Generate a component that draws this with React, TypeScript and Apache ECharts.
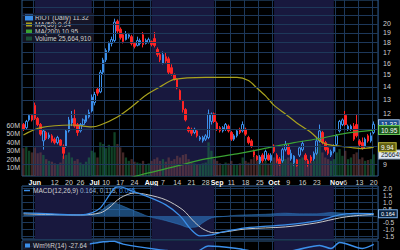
import { useEffect, useRef } from 'react';
import * as echarts from 'echarts';

// Trading days shown (2023), MM-DD
const dates = [
  '05-25','05-26','05-30','05-31',
  '06-01','06-02','06-05','06-06','06-07','06-08','06-09','06-12','06-13','06-14','06-15','06-16','06-20','06-21','06-22','06-23','06-26','06-27','06-28','06-29','06-30',
  '07-03','07-05','07-06','07-07','07-10','07-11','07-12','07-13','07-14','07-17','07-18','07-19','07-20','07-21','07-24','07-25','07-26','07-27','07-28','07-31',
  '08-01','08-02','08-03','08-04','08-07','08-08','08-09','08-10','08-11','08-14','08-15','08-16','08-17','08-18','08-21','08-22','08-23','08-24','08-25','08-28','08-29','08-30','08-31',
  '09-01','09-05','09-06','09-07','09-08','09-11','09-12','09-13','09-14','09-15','09-18','09-19','09-20','09-21','09-22','09-25','09-26','09-27','09-28','09-29',
  '10-02','10-03','10-04','10-05','10-06','10-09','10-10','10-11','10-12','10-13','10-16','10-17','10-18','10-19','10-20','10-23','10-24','10-25','10-26','10-27','10-30','10-31',
  '11-01','11-02','11-03','11-06','11-07','11-08','11-09','11-10','11-13','11-14','11-15','11-16','11-17','11-20',
];

// [open, close, low, high]
const candles: number[][] = [
  [11.3,11.0,10.9,11.4],[11.1,11.5,11.0,11.6],[11.6,11.9,11.5,12.0],[11.9,11.6,11.5,12.0],
  [12.6,11.7,11.6,12.8],[11.7,11.3,11.2,11.8],[11.3,10.7,10.6,11.4],[10.3,10.9,9.8,11.0],[10.8,10.45,10.35,10.9],
  [10.5,10.65,10.4,10.8],[10.6,10.3,10.2,10.7],[10.4,10.2,10.1,10.5],[10.2,10.5,10.1,10.6],[10.35,10.05,9.95,10.4],
  [10.0,9.6,9.3,10.1],[10.0,10.9,9.9,11.0],[10.9,11.6,10.8,11.8],[11.4,11.7,11.2,12.2],[11.7,11.2,11.1,12.3],
  [11.3,10.8,10.6,11.4],[10.9,11.3,10.8,11.4],[11.3,11.6,11.2,11.7],[11.5,11.9,11.4,12.0],[11.8,12.1,11.7,12.3],
  [12.2,13.2,12.1,13.4],[12.8,13.4,12.6,13.6],[13.8,13.5,13.3,13.9],[13.6,15.2,13.5,15.4],[15.2,16.3,15.0,16.5],
  [16.3,17.2,16.1,17.4],[17.2,17.9,17.0,18.1],[17.9,18.3,17.6,18.6],[18.2,20.2,18.0,20.6],[20.3,19.2,19.0,20.5],
  [19.4,18.5,18.3,19.6],[18.8,18.1,17.9,19.0],[18.3,18.9,18.2,19.2],[18.6,18.8,18.4,19.0],[18.6,17.9,17.7,18.8],
  [17.9,17.6,17.4,18.0],[17.7,18.2,17.6,18.6],[17.9,18.2,17.7,18.4],[18.8,17.8,17.5,19.1],[17.9,18.2,17.8,18.4],
  [18.0,18.3,17.9,18.5],[18.1,17.8,17.6,18.2],[18.4,17.7,17.5,19.1],[17.3,16.8,16.6,17.5],[16.8,16.3,16.1,17.0],
  [16.0,16.8,15.9,17.1],[16.6,16.2,16.0,17.0],[16.4,15.2,15.0,16.6],[15.6,15.1,14.9,15.9],[15.0,14.6,14.5,15.1],
  [14.6,13.9,13.8,14.7],[13.7,13.0,12.9,13.8],[12.9,12.3,12.1,13.0],[12.3,11.6,11.5,12.4],[11.1,10.9,10.8,11.2],
  [11.0,10.75,10.6,11.1],[10.8,11.0,10.7,11.1],[10.9,10.6,10.5,11.0],[10.4,10.5,10.3,10.6],[10.3,10.5,10.2,10.6],
  [10.4,10.6,10.3,10.7],[10.5,12.0,10.4,12.3],[11.5,12.0,11.3,12.1],[12.0,11.5,11.4,12.1],[11.4,11.0,10.9,11.5],
  [11.1,10.9,10.8,11.2],[10.9,11.1,10.8,11.2],[11.0,11.3,10.9,11.4],[11.2,10.9,10.8,11.3],[10.8,10.4,10.3,10.9],
  [10.4,10.6,10.3,10.7],[10.6,10.9,10.5,11.0],[11.0,10.8,10.7,11.1],[10.9,11.3,10.8,11.5],[11.0,10.7,10.6,11.1],
  [10.5,10.2,10.1,10.6],[10.3,10.0,9.9,10.4],[9.7,9.5,9.4,9.8],[9.45,9.25,9.2,9.5],[9.1,9.4,9.0,9.5],
  [9.5,9.2,9.1,9.6],[9.3,9.7,9.2,9.8],[9.5,9.25,9.2,9.6],[9.2,9.5,9.1,9.6],[10.0,9.7,9.6,10.1],
  [9.5,9.2,9.1,9.6],[9.3,9.0,8.95,9.4],[9.2,9.8,9.1,9.9],[9.8,10.1,9.7,10.3],[10.0,9.55,9.5,10.1],
  [9.3,9.6,9.2,9.8],[9.1,9.45,8.95,9.5],[9.25,8.95,8.9,9.3],[9.5,9.9,9.4,10.0],[9.8,10.15,9.7,10.3],
  [9.5,9.25,9.2,9.6],[9.2,9.0,8.9,9.3],[9.4,9.2,9.1,9.5],[9.3,9.6,9.2,9.7],[9.6,10.3,9.5,10.5],
  [10.3,10.9,10.2,11.3],[10.8,10.2,10.1,10.9],[10.2,9.8,9.7,10.3],[9.9,9.6,9.5,10.0],[9.5,9.7,9.4,9.8],
  [9.7,10.0,9.6,10.1],[10.1,10.6,10.0,10.7],[10.9,11.5,10.8,11.6],[11.3,11.6,11.2,11.7],[11.9,11.3,11.2,12.2],
  [11.0,11.2,10.9,11.3],[11.0,11.2,10.9,11.3],[11.2,10.4,10.3,11.4],[11.3,10.6,10.5,12.0],[10.3,10.1,10.0,10.4],
  [10.2,9.9,9.8,10.5],[10.0,10.4,9.9,10.5],[10.6,10.3,10.2,10.7],[10.3,10.6,10.2,10.8],[10.8,11.32,10.7,11.5],
];

// Volume, millions of shares
const volumes = [
  33,35,30,28,34,27,28,25,20,18,
  17,15,14,16,24,25,28,22,18,20,
  16,14,17,22,30,28,22,40,38,33,
  37,35,52,38,34,28,22,18,20,17,
  16,15,18,14,15,18,20,22,18,20,
  17,22,18,20,24,22,25,26,20,16,
  15,14,13,15,16,40,30,20,18,15,
  14,16,15,18,14,13,15,22,18,16,
  20,24,18,20,16,18,15,16,22,20,
  18,24,20,22,16,20,18,20,22,18,
  16,17,18,32,38,28,22,20,18,20,
  28,32,24,30,20,22,26,28,20,22,
  18,19,20,25.66491,
];

const ma50: [string, number][] = [
  ['05-25',10.65],['06-05',11.1],['06-21',11.27],['06-30',11.15],['07-06',11.27],['07-14',11.8],
  ['07-21',12.5],['07-28',13.35],['08-04',14.0],['08-11',14.6],['08-28',14.77],['09-13',14.77],
  ['09-19',14.5],['09-22',13.9],['09-27',13.3],['10-02',12.6],['10-06',12.0],['10-12',11.4],
  ['10-19',10.8],['10-25',10.2],['10-30',10.05],['11-08',9.92],['11-14',9.86],['11-20',9.94],
];

const ma200: [string, number][] = [
  ['07-19',8.3],['07-26',8.49],['08-10',8.86],['08-28',9.3],['09-13',9.57],['09-26',9.84],
  ['10-11',10.2],['10-24',10.44],['11-06',10.75],['11-20',10.95],
];

const macdLine: [string, number][] = [
  ['05-25',0.22],['06-09',0.15],['06-26',0.07],['06-30',0.22],['07-06',0.59],['07-11',1.47],
  ['07-13',2.06],['07-17',2.13],['07-21',1.84],['07-28',1.47],['08-08',0.81],['08-15',0.0],
  ['08-21',-1.03],['08-24',-1.47],['08-30',-1.4],['09-06',-1.18],['09-18',-0.88],['10-06',-0.66],
  ['10-23',-0.37],['11-02',0.07],['11-09',0.18],['11-20',0.164],
];

const signalLine: [string, number][] = [
  ['05-25',0.15],['06-26',0.07],['07-06',0.22],['07-11',0.59],['07-17',1.32],['07-24',1.69],
  ['07-31',1.54],['08-08',1.18],['08-16',0.44],['08-22',-0.44],['08-25',-0.96],['08-31',-1.25],
  ['09-18',-0.96],['10-06',-0.81],['10-23',-0.51],['11-02',-0.15],['11-09',0.0],['11-20',0.118],
];

const macdHist: [string, number][] = [
  ['05-25',0.06],['06-09',0.05],['06-26',0.02],['06-30',0.08],['07-06',0.35],['07-11',0.85],
  ['07-13',0.95],['07-17',0.8],['07-21',0.45],['07-26',0.2],['07-31',-0.05],['08-08',-0.35],
  ['08-15',-0.65],['08-18',-0.85],['08-23',-0.8],['08-25',-0.5],['08-30',-0.15],['09-06',-0.05],
  ['09-13',0.05],['09-27',0.12],['10-06',0.2],['10-13',0.15],['10-23',0.15],['10-30',0.25],
  ['11-06',0.2],['11-13',0.1],['11-20',0.05],
];

const macdReadout = ['0.164', '0.118', '0.095'];

const willR: [string, number][] = [
  ['05-25',-60],['06-01',-40],['06-15',-92],['06-23',-50],['06-30',-20],['07-05',-14],['07-07',-6],
  ['07-11',-3],['07-13',-2],['07-14',-10],['07-18',-25],['07-25',-45],['08-08',-75],['08-22',-92],
  ['08-29',-40],['09-13',-60],['09-26',-92],['10-11',-75],['10-24',-35],['10-30',-60],['11-02',-12],
  ['11-06',-20],['11-14',-60],['11-20',-27.64],
];

const tickLabels: [string, string][] = [
  ['06-01','Jun'],['06-12','12'],['06-20','20'],['06-26','26'],['07-03','Jul'],['07-10','10'],
  ['07-17','17'],['07-24','24'],['08-01','Aug'],['08-07','7'],['08-14','14'],['08-21','21'],
  ['08-28','28'],['09-01','Sep'],['09-11','11'],['09-18','18'],['09-25','25'],['10-02','Oct'],
  ['10-09','9'],['10-16','16'],['10-23','23'],['11-01','Nov'],['11-06','6'],['11-13','13'],['11-20','20'],
];

const shadedMonths: [string, string][] = [['06-01','06-30'],['08-01','08-31'],['10-02','10-31']];

const priceGrid = [9, 10, 11, 12, 13, 14, 15, 16, 17, 18, 19, 20, 21, 22];
const priceLabelled = [9, 12, 13, 14, 15, 16, 17, 18, 19, 20];

const BLUE = '#3b8fea';
const RED = '#ff2424';
const MA50_C = '#a9a21e';
const MA200_C = '#3aa332';
const GRID_C = '#1d385a';
const BORDER_C = '#2f5b88';
const BAND_C = '#18183e';
const TXT = '#d0d0d0';
const FONT = 'Liberation Sans, Arial, sans-serif';

export default function App() {
  const ref = useRef<HTMLDivElement>(null);

  useEffect(() => {
    document.body.style.margin = '0';
    document.body.style.background = '#000';
    if (!ref.current) return;
    const chart = echarts.init(ref.current, null, { renderer: 'svg' });

    const categories = [...dates, ''];
    const tickMap = new Map(tickLabels);
    const last = candles[candles.length - 1];
    const lastClose = last[1].toFixed(2);
    const lastMa50 = ma50[ma50.length - 1][1].toFixed(2);
    const lastMa200 = ma200[ma200.length - 1][1].toFixed(2);
    const lastVol = Math.round(volumes[volumes.length - 1] * 1e6);
    const lastWr = willR[willR.length - 1][1].toFixed(2);

    const nameRiot = `RIOT (Daily) ${lastClose}`;
    const nameMa50 = `MA(50) ${lastMa50}`;
    const nameMa200 = `MA(200) ${lastMa200}`;
    const nameVol = `Volume ${lastVol.toLocaleString('en-US')}`;
    const nameMacd = `MACD(12,26,9) ${macdReadout.join(', ')}`;
    const nameWr = `Wm%R(14) ${lastWr}`;

    const bands = shadedMonths.map(([a, b]) => [{ xAxis: a }, { xAxis: b }]);
    const bandArea = { silent: true, itemStyle: { color: BAND_C }, data: bands };

    const tag = (text: string, bg: string, border: string, color: string, size = 6.5) => ({
      silent: true,
      symbol: ['none', 'none'],
      lineStyle: { color: 'rgba(0,0,0,0)', width: 1 },
      label: {
        show: true, position: 'end', distance: 1, formatter: text,
        backgroundColor: bg, borderColor: border, borderWidth: 1, color,
        fontSize: size, padding: [1, 2, 0, 2], fontFamily: FONT,
      },
    });

    const xAxes = [0, 1, 2].map((g) => ({
      type: 'category',
      gridIndex: g,
      data: categories,
      boundaryGap: true,
      axisLine: { show: false },
      axisTick: { show: false },
      axisLabel: g === 0 ? {
        show: true,
        interval: (_i: number, v: string) => tickMap.has(v),
        margin: 3,
        formatter: (v: string) => {
          const t = tickMap.get(v) || '';
          return /^\d+$/.test(t) ? `{d|${t}}` : `{m|${t}}`;
        },
        rich: {
          m: { fontSize: 7, fontWeight: 'bold', color: '#ffffff', fontFamily: FONT },
          d: { fontSize: 7, color: TXT, fontFamily: FONT },
        },
      } : { show: false },
      splitLine: {
        show: true,
        interval: (_i: number, v: string) => tickMap.has(v),
        lineStyle: { color: GRID_C, width: 1 },
      },
    }));

    const option = {
      animation: false,
      backgroundColor: '#000',
      textStyle: { fontFamily: FONT },
      legend: [
        {
          data: [
            { name: nameRiot, icon: 'rect', itemStyle: { color: BLUE } },
            { name: nameMa50, icon: 'rect' },
            { name: nameMa200, icon: 'rect' },
            { name: nameVol, icon: 'rect' },
          ],
          orient: 'vertical', left: 23, top: 13, itemGap: 0, itemWidth: 6, itemHeight: 4,
          padding: [1, 3, 1, 2], backgroundColor: 'rgba(22,22,38,0.9)',
          textStyle: { color: TXT, fontSize: 6.5, lineHeight: 6, padding: [0, 0, 0, -2] },
          selectedMode: false,
        },
        {
          data: [{ name: nameMacd, icon: 'rect' }],
          left: 23, top: 186, itemWidth: 6, itemHeight: 1.5, padding: 1,
          formatter: () => `{a|MACD(12,26,9)} {b|${macdReadout[0]}, ${macdReadout[1]},} {c|${macdReadout[2]}}`,
          textStyle: {
            fontSize: 6.5, padding: [0, 0, 0, -2],
            rich: {
              a: { color: TXT, fontSize: 6.5 },
              b: { color: '#8fb0d0', fontSize: 6.5 },
              c: { color: BLUE, fontSize: 6.5 },
            },
          },
          selectedMode: false,
        },
        {
          data: [{ name: nameWr, icon: 'rect' }],
          left: 23, top: 241, itemWidth: 5, itemHeight: 4, padding: [1, 3, 1, 2],
          backgroundColor: 'rgba(22,22,38,0.9)',
          textStyle: { color: TXT, fontSize: 6.5, padding: [0, 0, 0, -2] },
          selectedMode: false,
        },
      ],
      grid: [
        { left: 22, right: 22, top: 0, height: 176, show: true, borderColor: BORDER_C, borderWidth: 1 },
        { left: 22, right: 22, top: 186, height: 53, show: true, borderColor: BORDER_C, borderWidth: 1 },
        { left: 22, right: 22, top: 241, height: 50, show: true, borderColor: BORDER_C, borderWidth: 1 },
      ],
      xAxis: xAxes,
      yAxis: [
        {
          type: 'log', gridIndex: 0, position: 'right', min: 8.44, max: 22.9, logBase: 10,
          axisLabel: { show: false }, axisLine: { show: false }, axisTick: { show: false }, splitLine: { show: false },
        },
        {
          type: 'value', gridIndex: 0, position: 'left', min: 0, max: 209, interval: 10,
          axisLine: { show: false }, axisTick: { show: false }, splitLine: { show: false },
          axisLabel: {
            margin: 2, fontSize: 7, color: TXT,
            formatter: (v: number) => (v > 0 && v <= 60 ? `${v}M` : ''),
          },
        },
        {
          type: 'value', gridIndex: 1, position: 'right', min: -1.7, max: 2.2, splitNumber: 8,
          axisLine: { show: false }, axisTick: { show: false },
          splitLine: { show: true, lineStyle: { color: GRID_C } },
          axisLabel: {
            margin: 5, fontSize: 6.5, color: TXT, showMinLabel: false, showMaxLabel: false,
            formatter: (v: number) => (Math.abs(v) < 1e-9 ? '' : v.toFixed(1)),
          },
        },
        {
          type: 'value', gridIndex: 2, position: 'right', min: -100, max: 0,
          axisLabel: { show: false }, axisLine: { show: false }, axisTick: { show: false }, splitLine: { show: false },
        },
      ],
      series: [
        {
          name: 'bands-main', type: 'line', xAxisIndex: 0, yAxisIndex: 0, data: [], z: 0, silent: true,
          markArea: bandArea,
          markLine: {
            silent: true, symbol: ['none', 'none'],
            lineStyle: { color: GRID_C, width: 1, type: 'solid' },
            label: { show: true, position: 'end', distance: 5, color: TXT, fontSize: 7, fontFamily: FONT, formatter: (p: any) => String(p.value) },
            data: priceGrid.map((p) => ({ yAxis: p, label: { show: priceLabelled.includes(p) } })),
          },
        },
        {
          name: nameVol, type: 'bar', xAxisIndex: 0, yAxisIndex: 1, z: 2, barWidth: '80%',
          itemStyle: { color: 'rgba(30,120,70,0.6)' },
          data: volumes.map((v, i) => ({
            value: v,
            itemStyle: { color: candles[i][1] >= candles[i][0] ? 'rgba(30,120,70,0.55)' : 'rgba(120,70,70,0.55)' },
          })),
          markLine: { ...tag(String(lastVol), '#dfe7ef', '#8aa0b8', '#0b1a2a'), data: [{ yAxis: volumes[volumes.length - 1] }] },
        },
        {
          name: nameRiot, type: 'candlestick', xAxisIndex: 0, yAxisIndex: 0, z: 3, barWidth: '72%',
          itemStyle: { color: 'rgba(0,0,0,0)', color0: RED, borderColor: BLUE, borderColor0: RED, borderWidth: 1 },
          data: candles,
          markLine: { ...tag(lastClose, '#1c4f8e', '#9cc0ea', '#ffffff'), data: [{ yAxis: last[1] }] },
        },
        {
          name: nameMa50, type: 'line', xAxisIndex: 0, yAxisIndex: 0, z: 4, color: MA50_C, smooth: 0.3,
          showSymbol: false, lineStyle: { color: MA50_C, width: 1.2 }, itemStyle: { color: MA50_C },
          data: ma50,
          markLine: { ...tag(lastMa50, '#5e5c10', '#d0c840', '#ffffff'), data: [{ yAxis: ma50[ma50.length - 1][1] }] },
        },
        {
          name: nameMa200, type: 'line', xAxisIndex: 0, yAxisIndex: 0, z: 4, color: MA200_C, smooth: 0.3,
          showSymbol: false, lineStyle: { color: MA200_C, width: 1.2 }, itemStyle: { color: MA200_C },
          data: ma200,
          markLine: { ...tag(lastMa200, '#1d5a1d', '#6ccc5a', '#ffffff'), data: [{ yAxis: ma200[ma200.length - 1][1] }] },
        },
        {
          name: 'bands-macd', type: 'line', xAxisIndex: 1, yAxisIndex: 2, data: [], z: 0, silent: true,
          markArea: bandArea,
        },
        {
          name: 'hist', type: 'line', xAxisIndex: 1, yAxisIndex: 2, z: 2, smooth: 0.3, showSymbol: false,
          lineStyle: { color: '#2f78c0', width: 0.5 }, areaStyle: { color: 'rgba(45,120,195,0.85)' },
          data: macdHist,
        },
        {
          name: 'signal', type: 'line', xAxisIndex: 1, yAxisIndex: 2, z: 3, smooth: 0.3, showSymbol: false,
          lineStyle: { color: '#c8c8c8', width: 1 }, data: signalLine,
        },
        {
          name: nameMacd, type: 'line', xAxisIndex: 1, yAxisIndex: 2, z: 4, smooth: 0.3, showSymbol: false,
          color: BLUE, itemStyle: { color: BLUE }, lineStyle: { color: BLUE, width: 1.3 }, data: macdLine,
          markLine: { ...tag(macdReadout[0], '#0c2440', '#7ab0ea', '#ffffff', 5.5), data: [{ yAxis: macdLine[macdLine.length - 1][1] }] },
        },
        {
          name: 'bands-wr', type: 'line', xAxisIndex: 2, yAxisIndex: 3, data: [], z: 0, silent: true,
          markArea: bandArea,
        },
        {
          name: nameWr, type: 'line', xAxisIndex: 2, yAxisIndex: 3, z: 3, smooth: 0.3, showSymbol: false,
          color: BLUE, itemStyle: { color: BLUE }, lineStyle: { color: BLUE, width: 1.5 }, data: willR,
        },
      ],
    };

    chart.setOption(option as any);
    return () => chart.dispose();
  }, []);

  return <div ref={ref} style={{ width: 400, height: 250, background: '#000' }} />;
}
